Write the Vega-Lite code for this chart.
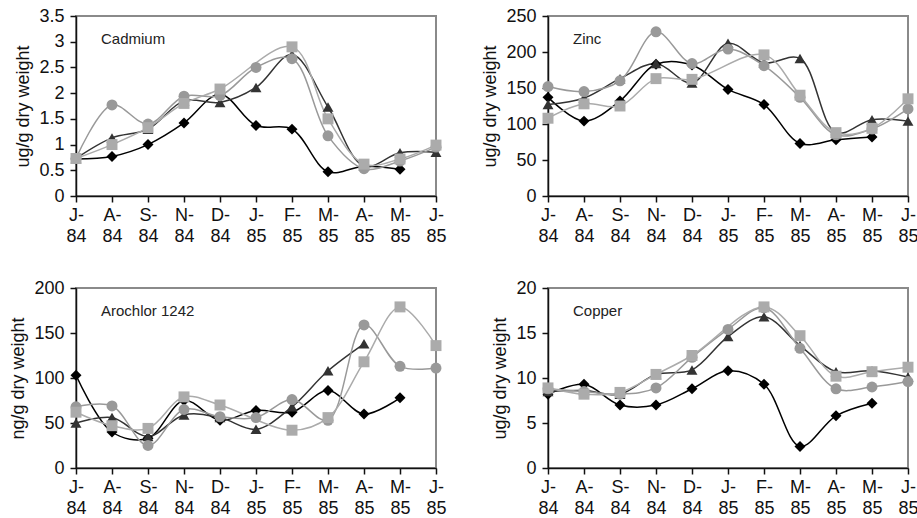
{
  "$schema": "https://vega.github.io/schema/vega-lite/v6.json",
  "background": "white",
  "padding": {"left": 8, "top": 6, "right": 5, "bottom": 5},
  "bounds": "flush",
  "columns": 2,
  "spacing": {"row": 92, "column": 112},
  "config": {
    "font": "Liberation Sans",
    "view": {"stroke": "#8a8a8a", "strokeWidth": 2},
    "axis": {"grid": false, "labelFontSize": 18, "titleFontSize": 18, "titleFontWeight": "normal", "labelColor": "#111", "titleColor": "#111", "domainColor": "#111", "domainWidth": 1.5, "tickColor": "#111", "tickWidth": 1.5, "tickSize": 6},
    "title": {"fontSize": 15, "fontWeight": "normal", "color": "#222", "anchor": "start", "frame": "group"}
  },
  "datasets": {
    "d": [
      {"p":"Cd","s":"D","m":"Jul 84","v":0.72},{"p":"Cd","s":"D","m":"Aug 84","v":0.77},{"p":"Cd","s":"D","m":"Sep 84","v":1.0},{"p":"Cd","s":"D","m":"Nov 84","v":1.42},{"p":"Cd","s":"D","m":"Dec 84","v":1.98},{"p":"Cd","s":"D","m":"Jan 85","v":1.37},{"p":"Cd","s":"D","m":"Feb 85","v":1.3},{"p":"Cd","s":"D","m":"Mar 85","v":0.47},{"p":"Cd","s":"D","m":"Apr 85","v":0.58},{"p":"Cd","s":"D","m":"May 85","v":0.52},
      {"p":"Cd","s":"T","m":"Jul 84","v":0.73},{"p":"Cd","s":"T","m":"Aug 84","v":1.13},{"p":"Cd","s":"T","m":"Sep 84","v":1.3},{"p":"Cd","s":"T","m":"Nov 84","v":1.85},{"p":"Cd","s":"T","m":"Dec 84","v":1.82},{"p":"Cd","s":"T","m":"Jan 85","v":2.11},{"p":"Cd","s":"T","m":"Feb 85","v":2.75},{"p":"Cd","s":"T","m":"Mar 85","v":1.73},{"p":"Cd","s":"T","m":"Apr 85","v":0.58},{"p":"Cd","s":"T","m":"May 85","v":0.84},{"p":"Cd","s":"T","m":"Jun 85","v":0.85},
      {"p":"Cd","s":"C","m":"Jul 84","v":0.73},{"p":"Cd","s":"C","m":"Aug 84","v":1.77},{"p":"Cd","s":"C","m":"Sep 84","v":1.4},{"p":"Cd","s":"C","m":"Nov 84","v":1.94},{"p":"Cd","s":"C","m":"Dec 84","v":1.95},{"p":"Cd","s":"C","m":"Jan 85","v":2.5},{"p":"Cd","s":"C","m":"Feb 85","v":2.67},{"p":"Cd","s":"C","m":"Mar 85","v":1.17},{"p":"Cd","s":"C","m":"Apr 85","v":0.53},{"p":"Cd","s":"C","m":"May 85","v":0.68},{"p":"Cd","s":"C","m":"Jun 85","v":0.95},
      {"p":"Cd","s":"S","m":"Jul 84","v":0.73},{"p":"Cd","s":"S","m":"Aug 84","v":1.0},{"p":"Cd","s":"S","m":"Sep 84","v":1.33},{"p":"Cd","s":"S","m":"Nov 84","v":1.8},{"p":"Cd","s":"S","m":"Dec 84","v":2.08},{"p":"Cd","s":"S","m":"Feb 85","v":2.9},{"p":"Cd","s":"S","m":"Mar 85","v":1.5},{"p":"Cd","s":"S","m":"Apr 85","v":0.62},{"p":"Cd","s":"S","m":"May 85","v":0.72},{"p":"Cd","s":"S","m":"Jun 85","v":0.99},

      {"p":"Zn","s":"D","m":"Jul 84","v":137},{"p":"Zn","s":"D","m":"Aug 84","v":104},{"p":"Zn","s":"D","m":"Sep 84","v":132},{"p":"Zn","s":"D","m":"Nov 84","v":183},{"p":"Zn","s":"D","m":"Dec 84","v":182},{"p":"Zn","s":"D","m":"Jan 85","v":148},{"p":"Zn","s":"D","m":"Feb 85","v":127},{"p":"Zn","s":"D","m":"Mar 85","v":73},{"p":"Zn","s":"D","m":"Apr 85","v":78},{"p":"Zn","s":"D","m":"May 85","v":82},
      {"p":"Zn","s":"T","m":"Jul 84","v":127},{"p":"Zn","s":"T","m":"Aug 84","v":136},{"p":"Zn","s":"T","m":"Sep 84","v":163},{"p":"Zn","s":"T","m":"Nov 84","v":184},{"p":"Zn","s":"T","m":"Dec 84","v":157},{"p":"Zn","s":"T","m":"Jan 85","v":212},{"p":"Zn","s":"T","m":"Feb 85","v":185},{"p":"Zn","s":"T","m":"Mar 85","v":191},{"p":"Zn","s":"T","m":"Apr 85","v":88},{"p":"Zn","s":"T","m":"May 85","v":106},{"p":"Zn","s":"T","m":"Jun 85","v":104},
      {"p":"Zn","s":"C","m":"Jul 84","v":152},{"p":"Zn","s":"C","m":"Aug 84","v":145},{"p":"Zn","s":"C","m":"Sep 84","v":160},{"p":"Zn","s":"C","m":"Nov 84","v":228},{"p":"Zn","s":"C","m":"Dec 84","v":184},{"p":"Zn","s":"C","m":"Jan 85","v":204},{"p":"Zn","s":"C","m":"Feb 85","v":181},{"p":"Zn","s":"C","m":"Mar 85","v":137},{"p":"Zn","s":"C","m":"Apr 85","v":85},{"p":"Zn","s":"C","m":"May 85","v":93},{"p":"Zn","s":"C","m":"Jun 85","v":121},
      {"p":"Zn","s":"S","m":"Jul 84","v":108},{"p":"Zn","s":"S","m":"Aug 84","v":128},{"p":"Zn","s":"S","m":"Sep 84","v":125},{"p":"Zn","s":"S","m":"Nov 84","v":163},{"p":"Zn","s":"S","m":"Dec 84","v":162},{"p":"Zn","s":"S","m":"Feb 85","v":196},{"p":"Zn","s":"S","m":"Mar 85","v":140},{"p":"Zn","s":"S","m":"Apr 85","v":88},{"p":"Zn","s":"S","m":"May 85","v":94},{"p":"Zn","s":"S","m":"Jun 85","v":135},

      {"p":"Ar","s":"D","m":"Jul 84","v":103},{"p":"Ar","s":"D","m":"Aug 84","v":40},{"p":"Ar","s":"D","m":"Sep 84","v":33},{"p":"Ar","s":"D","m":"Nov 84","v":75},{"p":"Ar","s":"D","m":"Dec 84","v":53},{"p":"Ar","s":"D","m":"Jan 85","v":64},{"p":"Ar","s":"D","m":"Feb 85","v":62},{"p":"Ar","s":"D","m":"Mar 85","v":86},{"p":"Ar","s":"D","m":"Apr 85","v":60},{"p":"Ar","s":"D","m":"May 85","v":78},
      {"p":"Ar","s":"T","m":"Jul 84","v":50},{"p":"Ar","s":"T","m":"Aug 84","v":56},{"p":"Ar","s":"T","m":"Sep 84","v":35},{"p":"Ar","s":"T","m":"Nov 84","v":59},{"p":"Ar","s":"T","m":"Dec 84","v":56},{"p":"Ar","s":"T","m":"Jan 85","v":43},{"p":"Ar","s":"T","m":"Feb 85","v":68},{"p":"Ar","s":"T","m":"Mar 85","v":108},{"p":"Ar","s":"T","m":"Apr 85","v":138},
      {"p":"Ar","s":"C","m":"Jul 84","v":68},{"p":"Ar","s":"C","m":"Aug 84","v":69},{"p":"Ar","s":"C","m":"Sep 84","v":25},{"p":"Ar","s":"C","m":"Nov 84","v":65},{"p":"Ar","s":"C","m":"Dec 84","v":57},{"p":"Ar","s":"C","m":"Jan 85","v":56},{"p":"Ar","s":"C","m":"Feb 85","v":76},{"p":"Ar","s":"C","m":"Mar 85","v":53},{"p":"Ar","s":"C","m":"Apr 85","v":159},{"p":"Ar","s":"C","m":"May 85","v":113},{"p":"Ar","s":"C","m":"Jun 85","v":111},
      {"p":"Ar","s":"S","m":"Jul 84","v":62},{"p":"Ar","s":"S","m":"Aug 84","v":47},{"p":"Ar","s":"S","m":"Sep 84","v":44},{"p":"Ar","s":"S","m":"Nov 84","v":79},{"p":"Ar","s":"S","m":"Dec 84","v":70},{"p":"Ar","s":"S","m":"Feb 85","v":42},{"p":"Ar","s":"S","m":"Mar 85","v":56},{"p":"Ar","s":"S","m":"Apr 85","v":118},{"p":"Ar","s":"S","m":"May 85","v":179},{"p":"Ar","s":"S","m":"Jun 85","v":136},

      {"p":"Cu","s":"D","m":"Jul 84","v":8.2},{"p":"Cu","s":"D","m":"Aug 84","v":9.3},{"p":"Cu","s":"D","m":"Sep 84","v":7.0},{"p":"Cu","s":"D","m":"Nov 84","v":7.0},{"p":"Cu","s":"D","m":"Dec 84","v":8.8},{"p":"Cu","s":"D","m":"Jan 85","v":10.8},{"p":"Cu","s":"D","m":"Feb 85","v":9.3},{"p":"Cu","s":"D","m":"Mar 85","v":2.4},{"p":"Cu","s":"D","m":"Apr 85","v":5.8},{"p":"Cu","s":"D","m":"May 85","v":7.2},
      {"p":"Cu","s":"T","m":"Jul 84","v":8.5},{"p":"Cu","s":"T","m":"Aug 84","v":8.6},{"p":"Cu","s":"T","m":"Sep 84","v":8.2},{"p":"Cu","s":"T","m":"Nov 84","v":10.4},{"p":"Cu","s":"T","m":"Dec 84","v":10.9},{"p":"Cu","s":"T","m":"Jan 85","v":14.6},{"p":"Cu","s":"T","m":"Feb 85","v":16.8},{"p":"Cu","s":"T","m":"Mar 85","v":13.6},{"p":"Cu","s":"T","m":"Apr 85","v":10.7},{"p":"Cu","s":"T","m":"May 85","v":10.8},{"p":"Cu","s":"T","m":"Jun 85","v":10.1},
      {"p":"Cu","s":"C","m":"Jul 84","v":8.8},{"p":"Cu","s":"C","m":"Aug 84","v":8.5},{"p":"Cu","s":"C","m":"Sep 84","v":8.2},{"p":"Cu","s":"C","m":"Nov 84","v":8.9},{"p":"Cu","s":"C","m":"Dec 84","v":12.3},{"p":"Cu","s":"C","m":"Jan 85","v":15.4},{"p":"Cu","s":"C","m":"Feb 85","v":17.8},{"p":"Cu","s":"C","m":"Mar 85","v":13.3},{"p":"Cu","s":"C","m":"Apr 85","v":8.8},{"p":"Cu","s":"C","m":"May 85","v":9.0},{"p":"Cu","s":"C","m":"Jun 85","v":9.6},
      {"p":"Cu","s":"S","m":"Jul 84","v":8.9},{"p":"Cu","s":"S","m":"Aug 84","v":8.2},{"p":"Cu","s":"S","m":"Sep 84","v":8.4},{"p":"Cu","s":"S","m":"Nov 84","v":10.4},{"p":"Cu","s":"S","m":"Dec 84","v":12.5},{"p":"Cu","s":"S","m":"Feb 85","v":17.9},{"p":"Cu","s":"S","m":"Mar 85","v":14.7},{"p":"Cu","s":"S","m":"Apr 85","v":10.2},{"p":"Cu","s":"S","m":"May 85","v":10.7},{"p":"Cu","s":"S","m":"Jun 85","v":11.2}
    ]
  },
  "data": {"name": "d"},
  "concat": [
    {
      "width": 360, "height": 180,
      "title": {"text": "Cadmium", "dx": 25, "dy": 44},
      "transform": [{"filter": "datum.p == 'Cd'"}],
      "encoding": {
        "x": {"field": "m", "type": "ordinal", "sort": ["Jul 84","Aug 84","Sep 84","Nov 84","Dec 84","Jan 85","Feb 85","Mar 85","Apr 85","May 85","Jun 85"], "scale": {"type": "point", "padding": 0}, "axis": {"title": null, "labelAngle": 0, "labelExpr": "[slice(datum.label,0,1) + '-', slice(datum.label,4)]", "labelLineHeight": 21, "labelPadding": 4}},
        "y": {"field": "v", "type": "quantitative", "scale": {"domain": [0, 3.5], "nice": false}, "axis": {"title": "ug/g dry weight", "values": [0,0.5,1,1.5,2,2.5,3,3.5], "format": "~g", "labelPadding": 6, "titlePadding": 6}},
        "color": {"field": "s", "type": "nominal", "scale": {"domain": ["D","T","C","S"], "range": ["#000000","#333333","#999999","#ababab"]}, "legend": null},
        "shape": {"field": "s", "type": "nominal", "scale": {"domain": ["D","T","C","S"], "range": ["diamond","triangle-up","circle","square"]}, "legend": null}
      },
      "layer": [
        {"mark": {"type": "line", "interpolate": "catmull-rom", "strokeWidth": 1.5}},
        {"mark": {"type": "point", "filled": true, "opacity": 1, "size": 120}}
      ]
    },
    {
      "width": 360, "height": 180,
      "title": {"text": "Zinc", "dx": 25, "dy": 44},
      "transform": [{"filter": "datum.p == 'Zn'"}],
      "encoding": {
        "x": {"field": "m", "type": "ordinal", "sort": ["Jul 84","Aug 84","Sep 84","Nov 84","Dec 84","Jan 85","Feb 85","Mar 85","Apr 85","May 85","Jun 85"], "scale": {"type": "point", "padding": 0}, "axis": {"title": null, "labelAngle": 0, "labelExpr": "[slice(datum.label,0,1) + '-', slice(datum.label,4)]", "labelLineHeight": 21, "labelPadding": 4}},
        "y": {"field": "v", "type": "quantitative", "scale": {"domain": [0, 250], "nice": false}, "axis": {"title": "ug/g dry weight", "values": [0,50,100,150,200,250], "labelPadding": 6, "titlePadding": 6}},
        "color": {"field": "s", "type": "nominal", "scale": {"domain": ["D","T","C","S"], "range": ["#000000","#333333","#999999","#ababab"]}, "legend": null},
        "shape": {"field": "s", "type": "nominal", "scale": {"domain": ["D","T","C","S"], "range": ["diamond","triangle-up","circle","square"]}, "legend": null}
      },
      "layer": [
        {"mark": {"type": "line", "interpolate": "catmull-rom", "strokeWidth": 1.5}},
        {"mark": {"type": "point", "filled": true, "opacity": 1, "size": 120}}
      ]
    },
    {
      "width": 360, "height": 180,
      "title": {"text": "Arochlor 1242", "dx": 25, "dy": 44},
      "transform": [{"filter": "datum.p == 'Ar'"}],
      "encoding": {
        "x": {"field": "m", "type": "ordinal", "sort": ["Jul 84","Aug 84","Sep 84","Nov 84","Dec 84","Jan 85","Feb 85","Mar 85","Apr 85","May 85","Jun 85"], "scale": {"type": "point", "padding": 0}, "axis": {"title": null, "labelAngle": 0, "labelExpr": "[slice(datum.label,0,1) + '-', slice(datum.label,4)]", "labelLineHeight": 21, "labelPadding": 4}},
        "y": {"field": "v", "type": "quantitative", "scale": {"domain": [0, 200], "nice": false}, "axis": {"title": "ng/g dry weight", "values": [0,50,100,150,200], "labelPadding": 6, "titlePadding": 6}},
        "color": {"field": "s", "type": "nominal", "scale": {"domain": ["D","T","C","S"], "range": ["#000000","#333333","#999999","#ababab"]}, "legend": null},
        "shape": {"field": "s", "type": "nominal", "scale": {"domain": ["D","T","C","S"], "range": ["diamond","triangle-up","circle","square"]}, "legend": null}
      },
      "layer": [
        {"mark": {"type": "line", "interpolate": "catmull-rom", "strokeWidth": 1.5}},
        {"mark": {"type": "point", "filled": true, "opacity": 1, "size": 120}}
      ]
    },
    {
      "width": 360, "height": 180,
      "title": {"text": "Copper", "dx": 25, "dy": 44},
      "transform": [{"filter": "datum.p == 'Cu'"}],
      "encoding": {
        "x": {"field": "m", "type": "ordinal", "sort": ["Jul 84","Aug 84","Sep 84","Nov 84","Dec 84","Jan 85","Feb 85","Mar 85","Apr 85","May 85","Jun 85"], "scale": {"type": "point", "padding": 0}, "axis": {"title": null, "labelAngle": 0, "labelExpr": "[slice(datum.label,0,1) + '-', slice(datum.label,4)]", "labelLineHeight": 21, "labelPadding": 4}},
        "y": {"field": "v", "type": "quantitative", "scale": {"domain": [0, 20], "nice": false}, "axis": {"title": "ug/g dry weight", "values": [0,5,10,15,20], "labelPadding": 6, "titlePadding": 6}},
        "color": {"field": "s", "type": "nominal", "scale": {"domain": ["D","T","C","S"], "range": ["#000000","#333333","#999999","#ababab"]}, "legend": null},
        "shape": {"field": "s", "type": "nominal", "scale": {"domain": ["D","T","C","S"], "range": ["diamond","triangle-up","circle","square"]}, "legend": null}
      },
      "layer": [
        {"mark": {"type": "line", "interpolate": "catmull-rom", "strokeWidth": 1.5}},
        {"mark": {"type": "point", "filled": true, "opacity": 1, "size": 120}}
      ]
    }
  ]
}
